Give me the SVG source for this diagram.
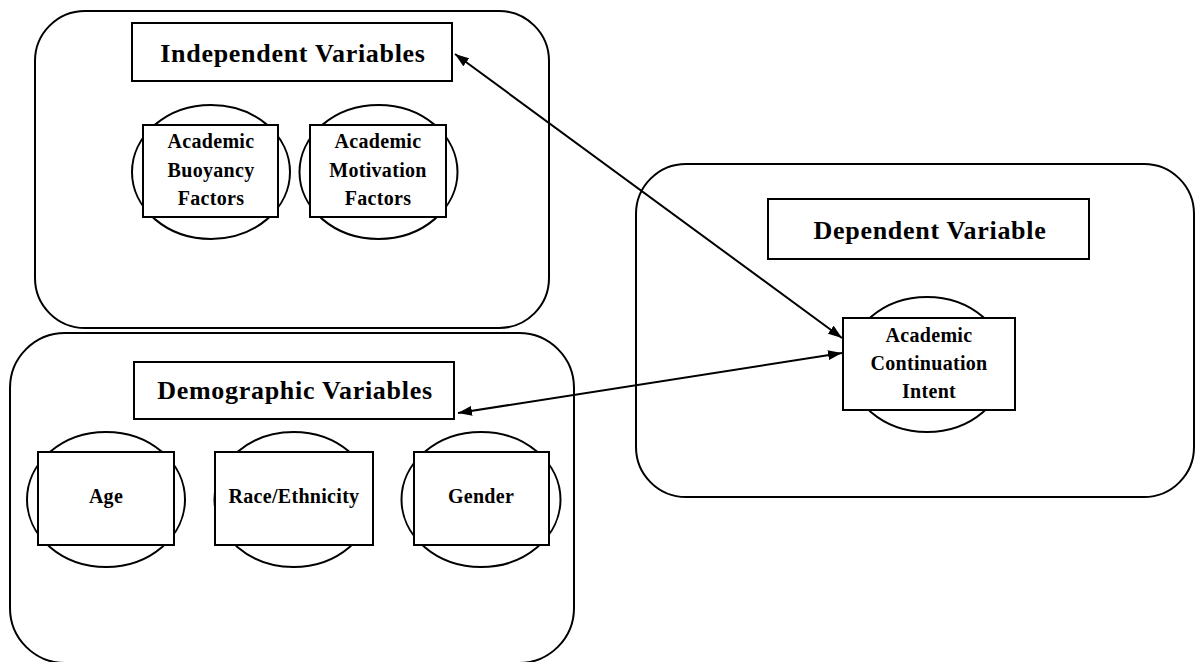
<svg xmlns="http://www.w3.org/2000/svg" width="1195" height="662" viewBox="0 0 1195 662">
<style>
.cont{fill:#fff;stroke:#000;stroke-width:2}
.box{fill:#fff;stroke:#000;stroke-width:2}
.circ{fill:#fff;stroke:#000;stroke-width:2}
.title{font-family:"Liberation Serif","Times New Roman",serif;font-weight:bold;font-size:26px;letter-spacing:0.7px;text-anchor:middle;fill:#000}
.lbl{font-family:"Liberation Serif","Times New Roman",serif;font-weight:bold;font-size:20px;letter-spacing:0.3px;text-anchor:middle;fill:#000}
.conn{stroke:#000;stroke-width:2;fill:none}
</style>
<defs>
<marker id="ah" viewBox="0 0 14 10" refX="14" refY="5" markerWidth="14" markerHeight="10" markerUnits="userSpaceOnUse" orient="auto-start-reverse">
<path d="M0,0 L14,5 L0,10 Z" fill="#000"/>
</marker>
</defs>
<rect width="1195" height="662" fill="#fff"/>

<g id="independent">
<rect class="cont" x="35" y="11" width="514" height="317" rx="50" ry="50"/>
<rect class="box" x="132" y="23" width="320" height="58"/>
<text class="title" x="293" y="62">Independent Variables</text>
</g>
<g id="buoyancy">
<ellipse class="circ" cx="211" cy="172" rx="79" ry="67"/>
<rect class="box" x="143" y="125" width="135" height="92"/>
<text class="lbl" x="211" y="148">Academic</text>
<text class="lbl" x="211" y="177">Buoyancy</text>
<text class="lbl" x="211" y="205">Factors</text>
</g>
<g id="motivation">
<ellipse class="circ" cx="378.5" cy="172" rx="79" ry="67"/>
<rect class="box" x="310" y="125" width="136" height="92"/>
<text class="lbl" x="378" y="148">Academic</text>
<text class="lbl" x="378" y="177">Motivation</text>
<text class="lbl" x="378" y="205">Factors</text>
</g>

<g id="demographic">
<rect class="cont" x="10" y="333" width="564" height="330" rx="55" ry="55"/>
<rect class="box" x="134" y="362" width="320" height="57"/>
<text class="title" x="295" y="399">Demographic Variables</text>
</g>
<g id="age">
<ellipse class="circ" cx="106" cy="499.5" rx="79" ry="67.5"/>
<rect class="box" x="38" y="452" width="136" height="93"/>
<text class="lbl" x="106" y="503">Age</text>
</g>
<g id="race">
<ellipse class="circ" cx="293.5" cy="499.5" rx="79" ry="67.5"/>
<rect class="box" x="215" y="452" width="158" height="93"/>
<text class="lbl" x="294" y="503">Race/Ethnicity</text>
</g>
<g id="gender">
<ellipse class="circ" cx="481" cy="499.5" rx="79.5" ry="67.5"/>
<rect class="box" x="414" y="452" width="135" height="93"/>
<text class="lbl" x="481" y="503">Gender</text>
</g>

<g id="dependent">
<rect class="cont" x="636" y="164" width="558" height="333" rx="50" ry="50"/>
<rect class="box" x="768" y="199" width="321" height="60"/>
<text class="title" x="930" y="239">Dependent Variable</text>
</g>
<g id="continuation">
<ellipse class="circ" cx="927" cy="364.5" rx="79" ry="67.5"/>
<rect class="box" x="843" y="318" width="172" height="92"/>
<text class="lbl" x="929" y="342">Academic</text>
<text class="lbl" x="929" y="370">Continuation</text>
<text class="lbl" x="929" y="398">Intent</text>
</g>

<g id="connectors">
<line class="conn" x1="455" y1="54" x2="842" y2="338" marker-start="url(#ah)" marker-end="url(#ah)"/>
<line class="conn" x1="458" y1="413" x2="842" y2="353" marker-start="url(#ah)" marker-end="url(#ah)"/>
</g>
</svg>
